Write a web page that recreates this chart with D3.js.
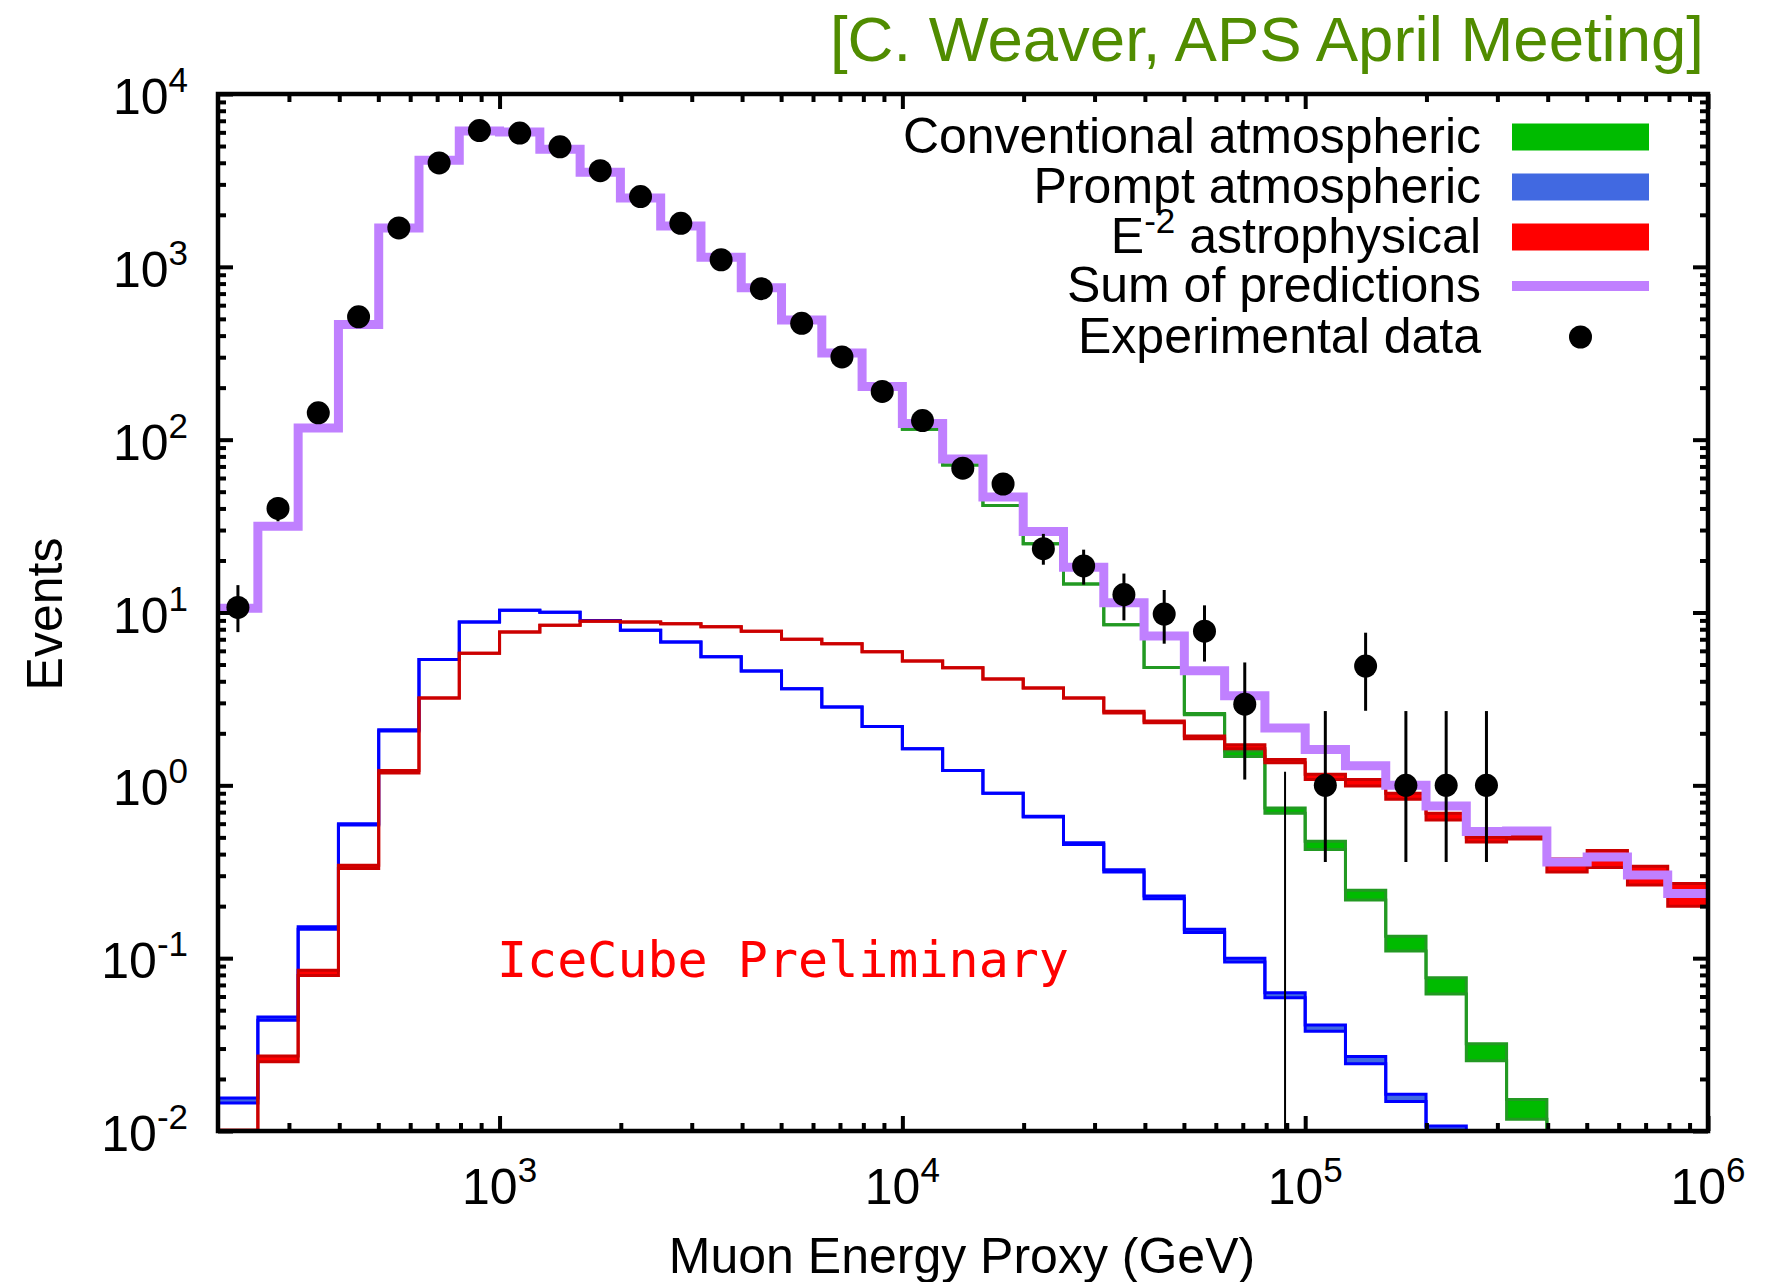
<!DOCTYPE html>
<html>
<head>
<meta charset="utf-8">
<script src="https://cdn.jsdelivr.net/npm/d3@7"></script>
<style>
  body { margin: 0; background: #fff; }
  svg { display: block; }
  text { font-family: "Liberation Sans", Arial, Helvetica, sans-serif; }
  text.mono { font-family: "DejaVu Sans Mono", "Liberation Mono", monospace; }
</style>
</head>
<body>
<svg id="chart" width="1773" height="1282"></svg>
<script>
// bin edges, log10(GeV)
const binEdgesLog = [2.301, 2.4, 2.5, 2.6, 2.7, 2.8, 2.9, 3.0, 3.1, 3.2, 3.3, 3.4, 3.5, 3.6, 3.7, 3.8, 3.9,
  4.0, 4.1, 4.2, 4.3, 4.4, 4.5, 4.6, 4.7, 4.8, 4.9, 5.0, 5.1, 5.2, 5.3, 5.4, 5.5, 5.6, 5.7, 5.8, 5.9, 6.0];

// sum of predictions
const sumPred = [10.6, 31.6, 117, 464, 1678, 4140, 6110, 6030, 4790, 3520,
  2500, 1722, 1138, 757, 493, 317, 203, 124, 77.3, 46.6,
  29.4, 18.3, 11.4, 7.3, 4.6, 3.3, 2.15, 1.61, 1.30, 1.00,
  0.76, 0.54, 0.545, 0.36, 0.385, 0.303, 0.237];

// conventional atmospheric band
const convLo = [10.6, 31.5, 116.7, 463, 1675, 4130, 6100, 6010, 4770, 3500,
  2480, 1707, 1124, 746, 482, 308, 195, 115, 71.3, 41.6,
  25.0, 14.6, 8.5, 4.8, 2.56, 1.47, 0.69, 0.425, 0.217, 0.11,
  0.062, 0.0255, 0.0117, 0.006, 0.003, 0.0015, 0.0008];
const convHi = [10.6, 31.5, 116.7, 463, 1675, 4130, 6100, 6010, 4770, 3500,
  2480, 1707, 1124, 746, 482, 308, 195, 115, 71.3, 41.6,
  25.0, 14.6, 8.5, 4.8, 2.60, 1.58, 0.74, 0.475, 0.247, 0.134,
  0.077, 0.032, 0.0152, 0.0075, 0.0038, 0.0019, 0.001];

// prompt atmospheric band
const promptLo = [0.0145, 0.0438, 0.147, 0.59, 2.06, 5.34, 8.8, 10.3, 10.05, 9.0,
  7.9, 6.75, 5.55, 4.58, 3.62, 2.84, 2.19, 1.63, 1.22, 0.90,
  0.655, 0.455, 0.315, 0.221, 0.141, 0.095, 0.059, 0.0378, 0.0245, 0.0148,
  0.0101, 0.0062, 0.004, 0.0026, 0.0017, 0.0011, 0.0007];
const promptHi = [0.0155, 0.0456, 0.152, 0.60, 2.10, 5.34, 8.8, 10.3, 10.05, 9.0,
  7.9, 6.75, 5.55, 4.58, 3.62, 2.84, 2.19, 1.63, 1.22, 0.90,
  0.662, 0.466, 0.325, 0.229, 0.147, 0.100, 0.063, 0.041, 0.027, 0.0163,
  0.0107, 0.0068, 0.0044, 0.0028, 0.0018, 0.0012, 0.0008];

// E^-2 astrophysical band
const astroLo = [0.0101, 0.0252, 0.0795, 0.33, 1.18, 3.2, 5.82, 7.7, 8.45, 8.9,
  8.8, 8.6, 8.27, 7.8, 7.0, 6.6, 5.93, 5.24, 4.79, 4.13,
  3.66, 3.2, 2.62, 2.30, 1.86, 1.63, 1.35, 1.08, 0.99, 0.83,
  0.63, 0.47, 0.49, 0.315, 0.335, 0.265, 0.20];
const astroHi = [0.0101, 0.0272, 0.085, 0.345, 1.22, 3.2, 5.82, 7.7, 8.45, 8.9,
  8.8, 8.6, 8.27, 7.8, 7.0, 6.6, 5.93, 5.24, 4.79, 4.13,
  3.66, 3.2, 2.68, 2.36, 1.93, 1.72, 1.41, 1.16, 1.08, 0.90,
  0.69, 0.50, 0.51, 0.375, 0.42, 0.34, 0.27];

// experimental data (first 32 bins) with error bar ends
const dataVal = [10.7, 40, 143, 514, 1678, 3990, 6140, 5940, 4950, 3600,
  2550, 1785, 1099, 748, 471, 301, 190, 129, 68.4, 55.4,
  23.4, 18.6, 12.7, 9.8, 7.8, 2.95, 0, 1, 4.9, 1, 1, 1];
const dataLo = [7.7, 33.7, 131, 491, 1637, 3927, 6062, 5863, 4880, 3540,
  2500, 1743, 1066, 721, 449, 284, 176, 118, 60.1, 48,
  18.9, 14.5, 9.0, 6.6, 5.2, 1.08, 0, 0.36, 2.70, 0.36, 0.36, 0.36];
const dataHi = [14.4, 46.3, 155, 537, 1719, 4053, 6218, 6017, 5020, 3660,
  2600, 1827, 1132, 775, 493, 318, 204, 140, 76.7, 62.8,
  28.5, 23.1, 16.8, 13.5, 11.0, 5.14, 1.20, 2.69, 7.64, 2.69, 2.69, 2.69];

const xMajorExp = [3, 4, 5, 6];
const yMajorExp = [-2, -1, 0, 1, 2, 3, 4];
const legendLabels = ["Conventional atmospheric", "Prompt atmospheric", "astrophysical", "Sum of predictions", "Experimental data"];

const plotL = 218, plotR = 1708, plotT = 94, plotB = 1131;

const svg = d3.select("#chart");
const x = d3.scaleLog().domain([200, 1e6]).range([plotL, plotR]);
const y = d3.scaleLog().domain([0.01, 1e4]).range([plotB, plotT]);

const edges = binEdgesLog.map(e => Math.pow(10, e));

svg.append("defs").append("clipPath").attr("id", "plotClip")
  .append("rect").attr("x", plotL).attr("y", plotT).attr("width", plotR - plotL).attr("height", plotB - plotT);

const plot = svg.append("g").attr("clip-path", "url(#plotClip)");

const stepLine = d3.line()
  .x(d => x(d[0]))
  .y(d => y(Math.max(d[1], 1e-4)))
  .curve(d3.curveStepAfter);

function stepPoints(vals) {
  const pts = vals.map((v, i) => [edges[i], v]);
  pts.push([edges[edges.length - 1], vals[vals.length - 1]]);
  return pts;
}

function drawBand(lo, hi, fill, stroke) {
  const g = plot.append("g");
  g.selectAll("rect").data(lo.map((v, i) => ({ i, lo: v, hi: hi[i] })).filter(d => d.hi > d.lo))
    .join("rect")
    .attr("x", d => x(edges[d.i]))
    .attr("width", d => x(edges[d.i + 1]) - x(edges[d.i]))
    .attr("y", d => y(d.hi))
    .attr("height", d => y(Math.max(d.lo, 1e-4)) - y(d.hi))
    .attr("fill", fill);
  [lo, hi].forEach(vals => {
    g.append("path")
      .attr("d", stepLine(stepPoints(vals)))
      .attr("fill", "none")
      .attr("stroke", stroke)
      .attr("stroke-width", 3);
  });
}

drawBand(convLo, convHi, "#00bb00", "#229922");
drawBand(promptLo, promptHi, "#4169e1", "#0000ff");
drawBand(astroLo, astroHi, "#ff0000", "#cc0000");

plot.append("path")
  .attr("d", stepLine(stepPoints(sumPred)))
  .attr("fill", "none")
  .attr("stroke", "#c080ff")
  .attr("stroke-width", 9);

// data points
const pts = dataVal.map((v, i) => ({
  cx: Math.sqrt(edges[i] * edges[i + 1]),
  v, lo: dataLo[i], hi: dataHi[i]
}));
plot.selectAll("line.err").data(pts).join("line")
  .attr("class", "err")
  .attr("x1", d => x(d.cx)).attr("x2", d => x(d.cx))
  .attr("y1", d => y(d.hi)).attr("y2", d => y(Math.max(d.lo, 1e-4)))
  .attr("stroke", "#000").attr("stroke-width", d => d.v > 0 ? 3 : 2);
plot.selectAll("circle.pt").data(pts.filter(d => d.v > 0)).join("circle")
  .attr("class", "pt")
  .attr("cx", d => x(d.cx)).attr("cy", d => y(d.v))
  .attr("r", 11.5).attr("fill", "#000");

// axes with inward ticks on all four sides
const xMajor = xMajorExp.map(e => Math.pow(10, e));
const xMinor = [];
[2, 3, 4, 5].forEach(e => d3.range(2, 10).forEach(m => { const v = m * Math.pow(10, e); if (v > 200 && v < 1e6) xMinor.push(v); }));
const yMajor = yMajorExp.map(e => Math.pow(10, e));
const yMinor = [];
[-2, -1, 0, 1, 2, 3].forEach(e => d3.range(2, 10).forEach(m => yMinor.push(m * Math.pow(10, e))));

function styleAxis(g) {
  g.select(".domain").remove();
  g.selectAll(".tick line").attr("stroke", "#000").attr("stroke-width", 4);
  g.selectAll(".tick text").remove();
}
[[xMajor, 15], [xMinor, 8]].forEach(([vals, len]) => {
  svg.append("g").attr("transform", `translate(0,${plotB})`)
    .call(d3.axisBottom(x).tickValues(vals).tickSize(-len).tickFormat("")).call(styleAxis);
  svg.append("g").attr("transform", `translate(0,${plotT})`)
    .call(d3.axisTop(x).tickValues(vals).tickSize(-len).tickFormat("")).call(styleAxis);
});
[[yMajor, 15], [yMinor, 8]].forEach(([vals, len]) => {
  svg.append("g").attr("transform", `translate(${plotL},0)`)
    .call(d3.axisLeft(y).tickValues(vals).tickSize(-len).tickFormat("")).call(styleAxis);
  svg.append("g").attr("transform", `translate(${plotR},0)`)
    .call(d3.axisRight(y).tickValues(vals).tickSize(-len).tickFormat("")).call(styleAxis);
});

svg.append("rect")
  .attr("x", plotL).attr("y", plotT).attr("width", plotR - plotL).attr("height", plotB - plotT)
  .attr("fill", "none").attr("stroke", "#000").attr("stroke-width", 4.5);

// tick labels
function powLabel(sel, exp) {
  sel.append("tspan").text("10");
  sel.append("tspan").attr("dy", -22).attr("font-size", 35).text(exp);
}
xMajorExp.forEach(e => {
  svg.append("text").attr("x", x(Math.pow(10, e))).attr("y", 1204)
    .attr("text-anchor", "middle").attr("font-size", 50).call(powLabel, e);
});
yMajorExp.forEach(e => {
  svg.append("text").attr("x", 188).attr("y", y(Math.pow(10, e)) + 20)
    .attr("text-anchor", "end").attr("font-size", 50).call(powLabel, e);
});

// axis titles
svg.append("text").attr("x", 962).attr("y", 1273).attr("text-anchor", "middle")
  .attr("font-size", 50).text("Muon Energy Proxy (GeV)");
svg.append("text").attr("transform", "translate(62,614) rotate(-90)").attr("text-anchor", "middle")
  .attr("font-size", 50).text("Events");

// header
svg.append("text").attr("x", 1704).attr("y", 61).attr("text-anchor", "end")
  .attr("font-size", 63.5).attr("fill", "#508c00").text("[C. Weaver, APS April Meeting]");

svg.append("text").attr("class", "mono").attr("x", 497).attr("y", 977)
  .attr("font-size", 50).attr("fill", "#ff0000").text("IceCube Preliminary");

// legend
const rowY = [137, 187, 237, 286, 337];
const legX0 = 1512, legX1 = 1649, textX = 1481;
legendLabels.forEach((lab, i) => {
  const t = svg.append("text").attr("x", textX).attr("y", rowY[i] + 16)
    .attr("text-anchor", "end").attr("font-size", 50);
  if (i === 2) {
    t.append("tspan").text("E");
    t.append("tspan").attr("dy", -20).attr("font-size", 35).text("-2");
    t.append("tspan").attr("dy", 20).text(" " + lab);
  } else {
    t.text(lab);
  }
});
[["#00bb00", 0], ["#4169e1", 1], ["#ff0000", 2]].forEach(([c, i]) => {
  svg.append("rect").attr("x", legX0).attr("y", rowY[i] - 13.5)
    .attr("width", legX1 - legX0).attr("height", 27).attr("fill", c);
});
svg.append("line").attr("x1", legX0).attr("x2", legX1).attr("y1", rowY[3]).attr("y2", rowY[3])
  .attr("stroke", "#c080ff").attr("stroke-width", 10);
svg.append("circle").attr("cx", (legX0 + legX1) / 2).attr("cy", rowY[4]).attr("r", 11.5).attr("fill", "#000");
</script>
</body>
</html>
